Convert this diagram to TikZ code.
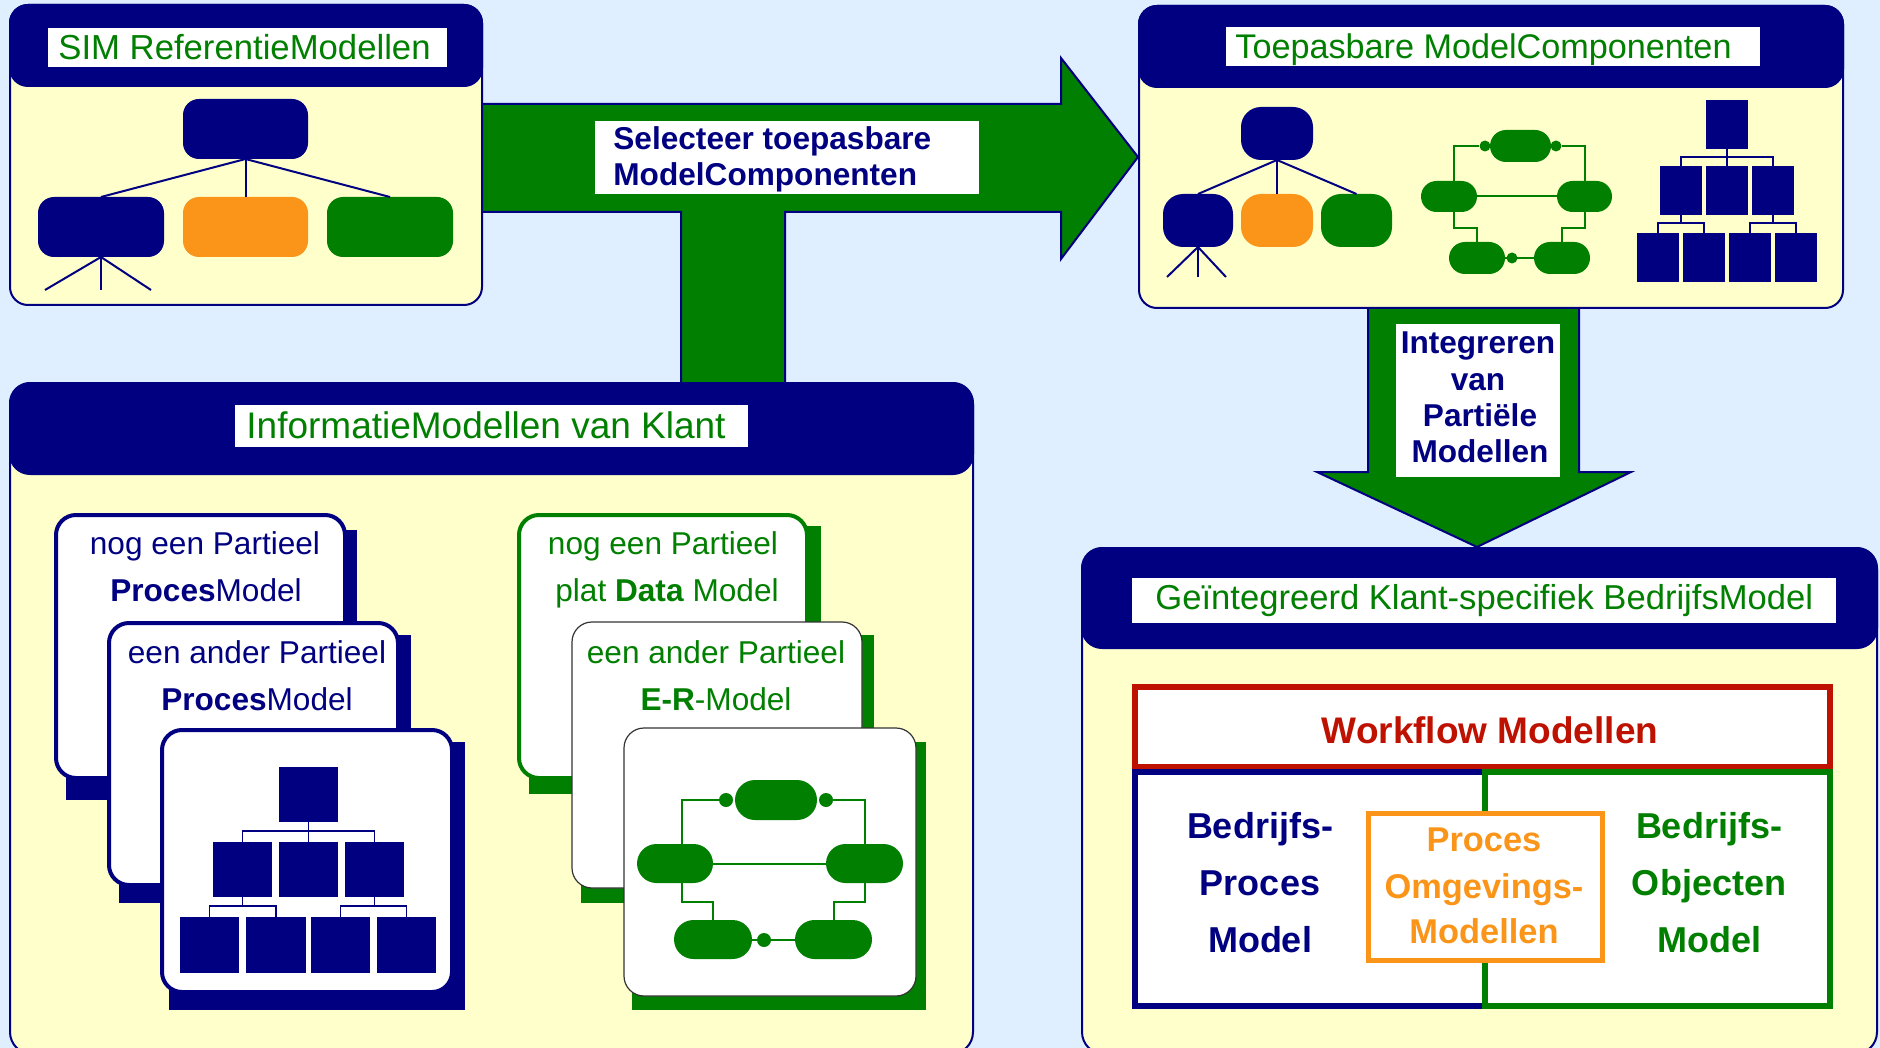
\documentclass[tikz,border=0pt]{standalone}
\usepackage{fontspec}
\setmainfont{Liberation Sans}
\usetikzlibrary{shapes.misc}
\definecolor{bgblue}{HTML}{DFEFFF}
\definecolor{panelyellow}{HTML}{FFFFCC}
\definecolor{navy}{HTML}{000080}
\definecolor{dgreen}{HTML}{007F00}
\definecolor{orng}{HTML}{FA9519}
\definecolor{dred}{HTML}{BE1100}
\newcommand\rbox[6]{%
  \pgfmathsetmacro\rbw{(#4-#2)*0.5}%
  \pgfmathsetmacro\rbh{(#5-#3)*0.5}%
  \node[inner sep=0pt,outer sep=0pt,minimum width=\rbw pt,minimum height=\rbh pt,#6] (#1) at ({(#2+#4)/2},{(#3+#5)/2}) {};}
\newcommand\ercirc[4]{\node[circle,fill=dgreen,inner sep=0pt,minimum size=#4pt] (#1) at (#2,#3) {};}
\begin{document}
\begin{tikzpicture}[x=0.5pt,y=-0.5pt,
  panel/.style={fill=panelyellow,draw=navy,line width=1pt,rounded corners=9pt},
  hdr/.style={fill=navy,draw=navy,line width=1pt,rounded corners=9pt},
  wlabel/.style={fill=white,draw=none},
  hdrtxt/.style={inner sep=0pt,text=dgreen,anchor=base west},
  boldtxt/.style={inner sep=0pt,anchor=base,font=\bfseries\fontsize{15.8}{18}\selectfont,text=navy},
  cardtxt/.style={inner sep=0pt,anchor=base,font=\fontsize{15.8}{18}\selectfont},
  bigtxt/.style={inner sep=0pt,anchor=base,font=\bfseries\fontsize{18}{20}\selectfont},
  arrowshape/.style={fill=dgreen,draw=navy,line width=1pt,line join=miter},
  treeline/.style={draw=navy,line width=1pt},
  orgline/.style={draw=navy,line width=0.8pt},
  erline/.style={draw=dgreen,line width=1pt},
  blob/.style={rounded corners=8pt},
  orgbox/.style={fill=navy},
  entity/.style={rounded rectangle,fill=dgreen},
  navycard/.style={fill=white,draw=navy,line width=2pt,rounded corners=10pt},
  greencard/.style={fill=white,draw=dgreen,line width=2pt,rounded corners=10pt},
  thincard/.style={fill=white,draw=black!80,line width=0.6pt,rounded corners=10pt}
]
\useasboundingbox (0,0) rectangle (1880,1048);
\clip (0,0) rectangle (1880,1048);
\fill[bgblue] (0,0) rectangle (1880,1048);

% arrows
\draw[arrowshape] (479,104) -- (1061,104) -- (1061,58) -- (1138,157) -- (1061,259) -- (1061,212) -- (785,212) -- (785,386) -- (681,386) -- (681,212) -- (479,212) -- cycle;
\draw[arrowshape] (1368,305) -- (1579,305) -- (1579,472) -- (1631,472) -- (1477,547) -- (1317,472) -- (1368,472) -- cycle;

% ---------- Box 1 ----------
\rbox{p1}{10}{5}{482}{305}{panel}
\rbox{h1}{10}{5}{482}{86}{hdr}
\rbox{l1}{48}{28}{447}{67}{wlabel}
\node[hdrtxt,font=\fontsize{17.35}{20}\selectfont] (t1) at (58,60) {SIM ReferentieModellen};
\rbox{a1}{183}{99}{308}{159}{fill=navy,blob}
\rbox{a2}{38}{197}{164}{257}{fill=navy,blob}
\rbox{a3}{183}{197}{308}{257}{fill=orng,blob}
\rbox{a4}{327}{197}{453}{257}{fill=dgreen,blob}
\draw[treeline] (a1.south) -- (a2.north);
\draw[treeline] (a1.south) -- (a3.north);
\draw[treeline] (a1.south) -- (a4.north);
\coordinate (a2l) at (45,290);
\coordinate (a2m) at (101,290);
\coordinate (a2r) at (151,290);
\draw[treeline] (a2.south) -- (a2l);
\draw[treeline] (a2.south) -- (a2m);
\draw[treeline] (a2.south) -- (a2r);

% ---------- Box 2 ----------
\rbox{p2}{1139}{6}{1843}{308}{panel}
\rbox{h2}{1139}{6}{1843}{87}{hdr}
\rbox{l2}{1226}{27}{1760}{66}{wlabel}
\node[hdrtxt,font=\fontsize{17.1}{20}\selectfont] (t2) at (1235,59) {Toepasbare ModelComponenten};
% tree
\rbox{s1}{1241}{107}{1313}{160}{fill=navy,rounded corners=10pt}
\rbox{s2}{1163}{194}{1233}{247}{fill=navy,rounded corners=10pt}
\rbox{s3}{1241}{194}{1313}{247}{fill=orng,rounded corners=10pt}
\rbox{s4}{1321}{194}{1392}{247}{fill=dgreen,rounded corners=10pt}
\draw[treeline] (s1.south) -- (s2.north);
\draw[treeline] (s1.south) -- (s3.north);
\draw[treeline] (s1.south) -- (s4.north);
\coordinate (s2l) at (1167,277);
\coordinate (s2m) at (1198,277);
\coordinate (s2r) at (1226,277);
\draw[treeline] (s2.south) -- (s2l);
\draw[treeline] (s2.south) -- (s2m);
\draw[treeline] (s2.south) -- (s2r);
% small ER
\rbox{ea1}{1490}{130}{1551}{162}{entity}
\rbox{ea2}{1421}{181}{1477}{212}{entity}
\rbox{ea3}{1557}{181}{1612}{212}{entity}
\rbox{ea4}{1449}{242}{1505}{274}{entity}
\rbox{ea5}{1534}{242}{1590}{274}{entity}
\ercirc{eac1}{1485}{146}{5.5}
\ercirc{eac2}{1556}{146}{5.5}
\ercirc{eac3}{1512}{258}{5.5}
\draw[erline] (eac1) -| ([xshift=2.5pt]ea2.north);
\draw[erline] (eac2) -| (ea3.north);
\draw[erline] (ea2.east) -- (ea3.west);
\draw[erline] ([xshift=2.5pt]ea2.south) -- ++(0,16) -| (ea4.north);
\draw[erline] (ea3.south) -- ++(0,16) -| (ea5.north);
\draw[erline] (ea4.east) -- (ea5.west);
% small org chart
\rbox{oa0}{1706}{100}{1748}{149}{orgbox}
\rbox{oa1}{1660}{166}{1702}{215}{orgbox}
\rbox{oa2}{1706}{166}{1748}{215}{orgbox}
\rbox{oa3}{1752}{166}{1794}{215}{orgbox}
\rbox{oa4}{1637}{233}{1679}{282}{orgbox}
\rbox{oa5}{1683}{233}{1725}{282}{orgbox}
\rbox{oa6}{1729}{233}{1771}{282}{orgbox}
\rbox{oa7}{1775}{233}{1817}{282}{orgbox}
\draw[orgline] (oa0.south) -- (oa2.north);
\draw[orgline] (oa0.south) -- ++(0,8) -| (oa1.north);
\draw[orgline] (oa0.south) -- ++(0,8) -| (oa3.north);
\draw[orgline] (oa1.south) -- ++(0,8) -| (oa4.north);
\draw[orgline] (oa1.south) -- ++(0,8) -| (oa5.north);
\draw[orgline] (oa3.south) -- ++(0,8) -| (oa6.north);
\draw[orgline] (oa3.south) -- ++(0,8) -| (oa7.north);

% ---------- Box 3 ----------
\rbox{p3}{10}{383}{973}{1054}{panel,rounded corners=11pt}
\rbox{h3}{10}{383}{973}{474}{hdr,rounded corners=10pt}
\rbox{l3}{235}{405}{748}{447}{wlabel}
\node[hdrtxt,font=\fontsize{18.5}{20}\selectfont] (t3) at (246,438) {InformatieModellen van Klant};
% navy cards
\rbox{c1s}{66}{530}{357}{800}{fill=navy}
\rbox{c1}{56}{515}{345}{778}{navycard}
\node[cardtxt,text=navy] (c1a) at (205,554) {nog een Partieel};
\node[cardtxt,text=navy] (c1b) at (206,601) {\textbf{Proces}Model};
\rbox{c2s}{119}{635}{411}{903}{fill=navy}
\rbox{c2}{109}{623}{398}{885}{navycard}
\node[cardtxt,text=navy] (c2a) at (257,663) {een ander Partieel};
\node[cardtxt,text=navy] (c2b) at (257,710) {\textbf{Proces}Model};
\rbox{c3s}{169}{742}{465}{1010}{fill=navy}
\rbox{c3}{162}{730}{452}{992}{navycard}
\rbox{ob0}{279}{767}{338}{822}{orgbox}
\rbox{ob1}{213}{842}{272}{897}{orgbox}
\rbox{ob2}{279}{842}{338}{897}{orgbox}
\rbox{ob3}{345}{842}{404}{897}{orgbox}
\rbox{ob4}{180}{917}{239}{973}{orgbox}
\rbox{ob5}{246}{917}{306}{973}{orgbox}
\rbox{ob6}{311}{917}{370}{973}{orgbox}
\rbox{ob7}{377}{917}{436}{973}{orgbox}
\draw[orgline] (ob0.south) -- (ob2.north);
\draw[orgline] (ob0.south) -- ++(0,9) -| (ob1.north);
\draw[orgline] (ob0.south) -- ++(0,9) -| (ob3.north);
\draw[orgline] (ob1.south) -- ++(0,9) -| (ob4.north);
\draw[orgline] (ob1.south) -- ++(0,9) -| (ob5.north);
\draw[orgline] (ob3.south) -- ++(0,9) -| (ob6.north);
\draw[orgline] (ob3.south) -- ++(0,9) -| (ob7.north);
% green cards
\rbox{g1s}{529}{526}{821}{794}{fill=dgreen}
\rbox{g1}{519}{515}{807}{778}{greencard}
\node[cardtxt,text=dgreen] (g1a) at (663,554) {nog een Partieel};
\node[cardtxt,text=dgreen] (g1b) at (667,601) {plat \textbf{Data} Model};
\rbox{g2s}{581}{635}{874}{903}{fill=dgreen}
\rbox{g2}{572}{622}{862}{888}{thincard}
\node[cardtxt,text=dgreen] (g2a) at (716,663) {een ander Partieel};
\node[cardtxt,text=dgreen] (g2b) at (716,710) {\textbf{E-R}-Model};
\rbox{g3s}{632}{742}{926}{1010}{fill=dgreen}
\rbox{g3}{624}{728}{916}{996}{thincard}
\rbox{eb1}{735}{780}{817}{820}{entity}
\rbox{eb2}{637}{844}{713}{883}{entity}
\rbox{eb3}{826}{844}{903}{883}{entity}
\rbox{eb4}{674}{920}{752}{959}{entity}
\rbox{eb5}{795}{920}{872}{959}{entity}
\ercirc{ebc1}{726}{800}{7}
\ercirc{ebc2}{826}{800}{7}
\ercirc{ebc3}{764}{940}{7}
\draw[erline] (ebc1) -| ([xshift=3.5pt]eb2.north);
\draw[erline] (ebc2) -| (eb3.north);
\draw[erline] (eb2.east) -- (eb3.west);
\draw[erline] ([xshift=3.5pt]eb2.south) -- ++(0,19) -| (eb4.north);
\draw[erline] (eb3.south) -- ++(0,19) -| (eb5.north);
\draw[erline] (eb4.east) -- (eb5.west);

% ---------- Box 4 ----------
\rbox{p4}{1082}{548}{1877}{1054}{panel,rounded corners=11pt}
\rbox{h4}{1082}{548}{1877}{648}{hdr,rounded corners=10pt}
\rbox{l4}{1132}{578}{1836}{623}{wlabel}
\node[hdrtxt,font=\fontsize{17.3}{20}\selectfont] (t4) at (1155,609) {Geïntegreerd Klant-specifiek BedrijfsModel};
\rbox{wf}{1135}{687}{1830}{767}{fill=white,draw=dred,line width=3pt}
\rbox{bp}{1135}{772}{1485}{1006}{fill=white,draw=navy,line width=3pt}
\rbox{bo}{1485}{772}{1830}{1006}{fill=white,draw=dgreen,line width=3pt}
\rbox{po}{1368}{813}{1602}{960}{fill=white,draw=orng,line width=2.5pt}
\node[bigtxt,text=dred,font=\bfseries\fontsize{18.5}{20}\selectfont] (wft) at (1490,743) {Workflow Modellen};
\node[bigtxt,text=navy] (bp1) at (1260,838) {Bedrijfs-};
\node[bigtxt,text=navy] (bp2) at (1260,895) {Proces};
\node[bigtxt,text=navy] (bp3) at (1260,952) {Model};
\node[bigtxt,text=dgreen] (bo1) at (1709,838) {Bedrijfs-};
\node[bigtxt,text=dgreen] (bo2) at (1709,895) {Objecten};
\node[bigtxt,text=dgreen] (bo3) at (1709,952) {Model};
\node[bigtxt,text=orng,font=\bfseries\fontsize{17.2}{20}\selectfont] (po1) at (1484,851) {Proces};
\node[bigtxt,text=orng,font=\bfseries\fontsize{17.2}{20}\selectfont] (po2) at (1484,898) {Omgevings-};
\node[bigtxt,text=orng,font=\bfseries\fontsize{17.2}{20}\selectfont] (po3) at (1484,943) {Modellen};

% ---------- arrow labels ----------
\rbox{sellbl}{595}{121}{979}{194}{wlabel}
\node[boldtxt,anchor=base west] (sel1) at (613,150) {Selecteer toepasbare};
\node[boldtxt,anchor=base west] (sel2) at (613,186) {ModelComponenten};
\rbox{intlbl}{1396}{324}{1560}{477}{wlabel}
\node[boldtxt] (int1) at (1478,354) {Integreren};
\node[boldtxt] (int2) at (1478,390) {van};
\node[boldtxt] (int3) at (1480,426) {Partiële};
\node[boldtxt] (int4) at (1480,462) {Modellen};
\end{tikzpicture}
\end{document}
